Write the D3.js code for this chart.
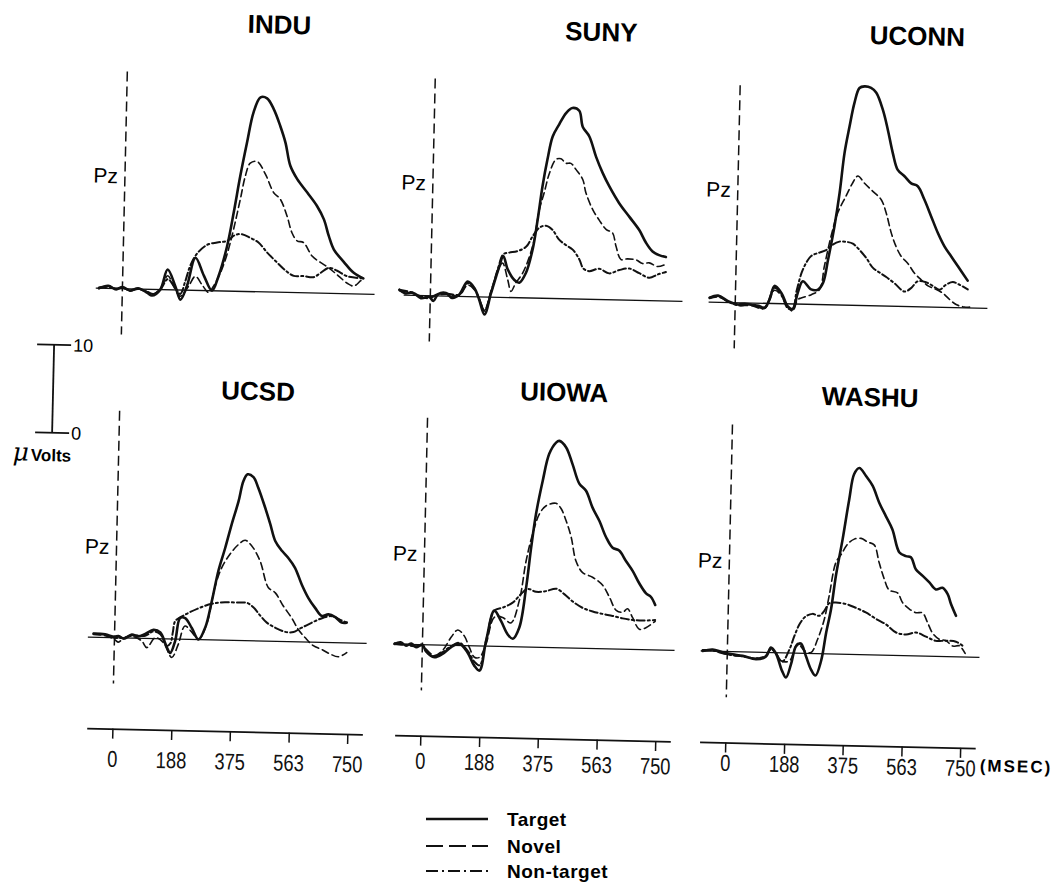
<!DOCTYPE html>
<html><head><meta charset="utf-8">
<script src="https://cdn.jsdelivr.net/npm/d3@7"></script>
<style>body{margin:0;background:#fff}svg{display:block}</style>
</head><body><svg id="chart" width="1058" height="886"></svg>
<script>
// ---------------- data ----------------
const sites = ["INDU", "SUNY", "UCONN", "UCSD", "UIOWA", "WASHU"];
const conditions = ["Target", "Novel", "Non-target"];
const timeTicks = [0, 188, 375, 563, 750];
const scaleBarTicks = [0, 10];
const channelLabel = "Pz";
const timeUnitLabel = "(MSEC)";
const voltUnitLabel = "Volts";

// [time ms, amplitude µV]
const INDU_target = [[-75,0],[-45,0.3],[-20,-0.1],[0,0.2],[25,-0.2],[50,0.1],[80,-0.4],[95,-0.7],[121,0],[143,2.3],[169,0.4],[186,-1.1],[206,0.5],[231,3.7],[259,1.7],[286,0],[306,1.7],[331,5.1],[350,9],[368,13.1],[387,16.9],[406,20.4],[427,22.1],[448,22],[470,20.8],[492,18.9],[510,17],[527,14.4],[550,12.9],[583,11.4],[615,9.9],[638,8.4],[655,6.5],[672,5],[705,3.6],[737,2.4],[768,1.8]];
const INDU_novel = [[-75,0.1],[-45,0.2],[-20,0],[0,0.1],[25,-0.1],[50,0],[80,-0.3],[100,-0.5],[121,0.1],[144,1.6],[165,0.3],[185,-0.7],[210,0.4],[232,1.6],[255,0.6],[275,-0.2],[290,0.5],[312,2.1],[330,4.0],[346,6.3],[370,10.5],[384,13.1],[399,14.6],[421,14.8],[448,13.4],[476,11.3],[497,10.6],[520,8.7],[537,6.8],[554,5.9],[575,5.7],[603,4.2],[630,3.5],[657,2.9],[689,2.0],[717,1.2],[738,0.9],[759,1.5],[768,1.8]];
const INDU_nontarget = [[-75,0],[-45,0.2],[-20,0],[0,0.1],[25,-0.2],[50,0],[80,-0.3],[100,-0.5],[121,0],[144,1.2],[165,0.4],[185,-0.45],[200,1.0],[215,2.8],[236,4.2],[267,5.2],[299,5.5],[331,5.7],[356,6.4],[378,6.5],[405,6.1],[431,5.6],[459,4.5],[491,3.4],[519,2.5],[546,1.9],[577,1.9],[609,1.8],[631,2.3],[657,2.9],[684,2.6],[716,2.0],[768,1.8]];

const SUNY_target = [[-99,0.6],[-80,0.2],[-56,0.3],[-30,-0.3],[-3,-0.15],[10,-0.6],[25,0.2],[50,0.35],[70,-0.2],[92,0.2],[118,1.7],[140,1.0],[156,-0.3],[174,-2.0],[194,0.5],[218,3.5],[230,4.7],[245,3.2],[267,2.0],[283,1.7],[303,2.8],[323,5.5],[337,8.9],[350,12.7],[364,15.8],[379,18.4],[399,19.8],[420,21.1],[440,21.7],[462,21.4],[474,19.6],[496,18.5],[519,16.2],[541,14.4],[563,12.9],[596,11.0],[629,9.5],[662,8.0],[684,6.6],[706,5.6],[727,5.2],[749,5.0]];
const SUNY_novel = [[-99,0.5],[-56,0.2],[-30,-0.2],[-3,-0.3],[25,0.1],[50,0.2],[92,0.1],[118,1.3],[140,0.8],[156,-0.2],[174,-1.5],[194,0.8],[214,3.0],[228,3.9],[246,2.0],[257,0.7],[272,1.7],[293,2.8],[323,5.9],[342,10.1],[356,12],[371,14.2],[391,15.8],[407,15.9],[423,15.4],[439,15.4],[456,14.7],[478,13.6],[489,12.1],[512,10.2],[534,9.0],[556,8.0],[577,7.6],[589,6.1],[606,4.6],[627,4.7],[654,4.6],[675,4.2],[696,4.3],[723,3.9],[750,4.2]];
const SUNY_nontarget = [[-99,0.6],[-56,0.3],[-30,-0.1],[-3,-0.2],[25,0.2],[50,0.3],[92,0.2],[118,1.5],[140,0.9],[156,-0.2],[174,-1.6],[194,0.6],[215,3.4],[230,4.9],[249,5.1],[275,5.3],[302,5.8],[322,7.0],[343,8.0],[364,8.25],[385,7.8],[407,6.7],[429,6.1],[451,5.6],[473,4.5],[486,3.5],[505,3.2],[537,3.5],[569,3.0],[601,3.4],[633,3.6],[665,3.1],[698,2.6],[724,3.0],[750,3.3]];

const UCONN_target = [[-82,0.5],[-55,0.75],[-23,0.15],[9,-0.2],[30,-0.1],[51,-0.2],[75,-0.3],[94,-0.5],[110,0.5],[124,2.0],[147,1.2],[168,-0.3],[184,-0.6],[199,1.3],[214,2.6],[241,1.7],[263,1.7],[279,2.5],[293,5.1],[311,8.9],[325,12.7],[338,17.3],[352,20.3],[366,23],[381,24.7],[397,24.9],[418,24.75],[435,24.2],[457,22.3],[474,20.1],[492,17.4],[509,15.5],[531,14.8],[553,14],[574,13.7],[596,12.2],[619,10.3],[642,8.4],[664,6.9],[686,5.8],[708,4.7],[740,3.1]];
const UCONN_novel = [[-82,0.4],[-55,0.6],[-23,0.1],[9,-0.3],[51,-0.3],[94,-0.6],[124,1.5],[147,0.9],[168,-0.4],[184,-0.8],[199,0.5],[210,0.7],[242,1.1],[268,1.7],[282,4.4],[301,7.8],[321,10.5],[346,12.4],[366,13.9],[382,14.7],[404,13.9],[431,13.0],[458,12.1],[475,10.6],[493,8.3],[509,6.8],[526,5.7],[548,4.9],[570,3.8],[591,3.1],[614,2.4],[635,2.1],[662,1.6],[684,0.9],[705,0.35],[731,0.1],[753,0.1]];
const UCONN_nontarget = [[-82,0.5],[-55,0.7],[-23,0.1],[9,-0.3],[51,-0.2],[94,-0.5],[124,1.8],[147,1.0],[168,-0.5],[184,-0.5],[195,1.5],[210,3.6],[225,4.8],[239,5.5],[265,5.9],[286,6.2],[307,6.85],[328,7.2],[349,7.2],[371,7.0],[393,6.3],[415,5.4],[437,4.3],[458,3.8],[480,3.3],[507,2.6],[539,1.7],[560,2.1],[581,2.9],[608,2.8],[630,2.4],[651,2.0],[672,2.6],[693,2.9],[715,2.6],[741,2.1]];

const UCSD_target = [[-67,0.4],[-30,0.35],[0,0.1],[13,0.2],[30,-0.1],[55,0.4],[75,0.2],[98,0.5],[124,1.0],[146,0.7],[168,-1.0],[179,-1.6],[194,-0.2],[208,2.4],[224,2.4],[246,1.3],[268,0],[289,1.4],[308,4.4],[327,7.9],[347,10.5],[366,13.2],[386,15.8],[400,18.1],[413,18.9],[432,18.6],[448,17.4],[471,15.2],[489,13.3],[506,11.4],[528,10.3],[549,9.5],[571,8.4],[594,6.5],[616,5.0],[638,3.9],[660,3.0],[681,3.2],[703,2.9],[724,2.3],[740,2.3]];
const UCSD_novel = [[-67,0.3],[-30,0.2],[0,-0.2],[13,-0.5],[30,0],[55,0.2],[87,-0.3],[104,-1.05],[130,0.1],[157,-0.45],[184,-2.1],[204,-0.6],[224,1.5],[247,0.8],[268,0],[293,1.75],[317,6.0],[337,8.2],[363,9.8],[389,10.9],[410,11.4],[431,10.8],[459,9.1],[487,6.1],[510,5.5],[537,4.0],[564,2.7],[586,1.4],[608,0.5],[635,-0.4],[662,-0.8],[689,-1.3],[716,-1.6],[742,-1.1]];
const UCSD_nontarget = [[-67,0.4],[-30,0.3],[0,0],[30,0],[55,0.3],[98,0.3],[124,0.8],[146,0.5],[168,-0.8],[179,-0.5],[186,0.8],[193,2.05],[224,2.8],[266,3.55],[308,4.1],[350,4.3],[393,4.3],[420,4.3],[441,3.8],[463,2.9],[485,2.1],[512,1.55],[544,1.1],[571,1.1],[591,1.5],[612,1.9],[639,2.4],[665,2.8],[692,3.0],[719,2.6],[741,2.3]];

const UIOWA_target = [[-89,0],[-70,0.2],[-52,-0.15],[-35,0.1],[-20,-0.3],[0,0],[12,-0.75],[39,-1.4],[65,-1.0],[92,-0.2],[118,0.2],[145,-0.8],[167,-2.25],[184,-2.8],[203,0.6],[227,4.05],[249,2.9],[271,1.4],[288,0.9],[308,2.2],[327,6.8],[340,11.3],[353,15.1],[372,18.9],[391,22],[412,23.3],[422,23.5],[444,22.8],[466,20.9],[489,18.7],[511,17.9],[533,16],[556,14.5],[578,12.7],[600,11.5],[621,11.2],[644,10],[666,8.9],[688,7.5],[710,6.4],[726,6.0],[740,5.1]];
const UIOWA_novel = [[-89,0.1],[-52,0],[-20,-0.2],[0,-0.1],[12,-0.5],[39,-1.2],[65,-0.6],[91,0.9],[112,1.76],[133,1.1],[150,-0.2],[167,-1.3],[183,-1.3],[203,0.25],[228,3.3],[254,3.3],[281,2.7],[306,5.25],[325,9.8],[344,12.9],[364,15.15],[385,16.1],[416,16.4],[433,15.8],[449,14.5],[467,12.6],[484,9.9],[506,8.6],[538,8.1],[571,7.2],[593,5.9],[616,4.4],[637,4.2],[652,4.6],[669,3.6],[691,2.3],[712,2.5],[741,3.25]];
const UIOWA_nontarget = [[-89,0],[-52,-0.1],[-20,-0.2],[0,-0.1],[12,-0.6],[39,-1.3],[65,-0.8],[92,-0.1],[118,0.3],[145,-0.6],[167,-1.8],[184,-2.2],[203,0.6],[227,4.05],[253,4.4],[285,5.0],[311,6.0],[332,6.6],[359,6.3],[391,6.4],[423,6.7],[449,6.1],[476,5.3],[508,4.6],[541,4.2],[573,3.95],[605,3.75],[637,3.5],[669,3.35],[701,3.3],[741,3.4]];

const WASHU_target = [[-79,0],[-47,0.2],[-15,-0.1],[17,-0.3],[49,-0.45],[92,-0.8],[123,-0.5],[139,0.56],[155,-0.07],[176,-2.05],[189,-2.8],[204,-1.3],[219,0.8],[234,1.1],[251,-0.3],[268,-1.8],[283,-2.5],[300,-0.8],[314,2.4],[328,5.1],[341,8.9],[360,13.1],[378,17.6],[392,20.5],[408,21.2],[430,20.3],[452,19.2],[474,17.3],[496,15.8],[518,14.3],[542,11.7],[563,11.3],[579,11.2],[596,9.8],[618,9.1],[639,8.4],[661,7.6],[682,7.8],[699,7.1],[710,6.0],[727,4.65]];
const WASHU_novel = [[-79,0],[-47,0.1],[-15,-0.2],[17,-0.4],[49,-0.5],[92,-0.7],[123,-0.4],[139,0.37],[155,0],[172,-0.9],[199,-0.9],[224,1.1],[246,0.3],[267,0.1],[287,1.6],[307,3.9],[321,6.6],[340,10.4],[356,11.3],[376,12.5],[397,13.1],[419,13.2],[440,12.8],[461,12.5],[478,10.5],[496,8.6],[512,7.4],[539,7.1],[556,6.0],[578,5.3],[599,4.9],[620,4.9],[637,3.8],[654,2.6],[675,1.95],[697,1.8],[719,1.2],[740,1.25],[759,0.4]];
const WASHU_nontarget = [[-79,0.1],[-47,0.1],[-15,-0.2],[17,-0.4],[49,-0.5],[92,-0.7],[123,-0.4],[139,0.4],[155,-0.1],[176,-1.0],[198,0.4],[213,1.95],[230,3.4],[248,4.2],[269,4.5],[291,4.3],[306,4.85],[322,5.75],[343,5.85],[376,5.7],[407,5.3],[439,4.8],[472,4.1],[504,3.5],[537,2.6],[569,2.4],[601,2.65],[633,2.2],[665,1.75],[697,1.8],[729,1.7],[751,1.25]];

const seriesBySite = {
  INDU: [INDU_target, INDU_novel, INDU_nontarget],
  SUNY: [SUNY_target, SUNY_novel, SUNY_nontarget],
  UCONN: [UCONN_target, UCONN_novel, UCONN_nontarget],
  UCSD: [UCSD_target, UCSD_novel, UCSD_nontarget],
  UIOWA: [UIOWA_target, UIOWA_novel, UIOWA_nontarget],
  WASHU: [WASHU_target, WASHU_novel, WASHU_nontarget]
};

// ---------------- layout (positions / styles) ----------------
const W = 1058, H = 886;
const colX0 = [119, 427, 732];        // x of time 0 per column
const rowBase = [298, 647];            // y of 0 µV per row
const pxPerMs = 0.3133;
const pxPerUV = 8.8;
const panelLayout = {
  INDU:  {col:0,row:0, titleDx:151, titleY:30},
  SUNY:  {col:1,row:0, titleDx:165, titleY:30},
  UCONN: {col:2,row:0, titleDx:176, titleY:27},
  UCSD:  {col:0,row:1, titleDx:138, titleY:397},
  UIOWA: {col:1,row:1, titleDx:136, titleY:391},
  WASHU: {col:2,row:1, titleDx:137, titleY:389}
};
const rowPzOffset = [-113, -91];
const rowOnsetTop = [24.7, 25.8];      // µV at top of onset line
const onsetBottom = -5.2;
const baselineRange = [-85, 805];
const axisRange = [-82, 798];
const axisY = 738;
const axisLabelDy = [30, 25, 20];
const styles = [
  {width:2.6, dash:null},
  {width:1.6, dash:"7,4"},
  {width:2.0, dash:"8,3,2,3"}
];

const svg = d3.select("#chart");
svg.append("rect").attr("width", W).attr("height", H).attr("fill", "#fff");
const root = svg.append("g").attr("transform", "rotate(1.3,529,443)");
const FONT = "'Liberation Sans', Arial, Helvetica, sans-serif";

sites.forEach(site => {
  const L = panelLayout[site];
  const x0 = colX0[L.col], base = rowBase[L.row];
  const x = d3.scaleLinear().domain([0, 750]).range([x0, x0 + 750 * pxPerMs]);
  const y = d3.scaleLinear().domain([0, 10]).range([base, base - 10 * pxPerUV]);
  const g = root.append("g");

  // title
  g.append("text").attr("x", x0 + L.titleDx).attr("y", L.titleY).attr("dy", "0.36em")
    .attr("text-anchor", "middle").attr("font-family", FONT).attr("font-weight", "bold")
    .attr("font-size", 26).text(site);

  // onset line
  g.append("line").attr("x1", x(0)).attr("x2", x(0))
    .attr("y1", y(rowOnsetTop[L.row])).attr("y2", y(onsetBottom))
    .attr("stroke", "#111").attr("stroke-width", 1.5).attr("stroke-dasharray", "10,5");

  // Pz
  g.append("text").attr("x", x(0) - 7).attr("y", base + rowPzOffset[L.row]).attr("dy", "0.36em")
    .attr("text-anchor", "end").attr("font-family", FONT).attr("font-size", 21).text(channelLabel);

  // baseline
  g.append("line").attr("x1", x(baselineRange[0])).attr("x2", x(baselineRange[1]))
    .attr("y1", y(0)).attr("y2", y(0)).attr("stroke", "#111").attr("stroke-width", 1.3);

  const line = d3.line().x(d => x(d[0])).y(d => y(d[1])).curve(d3.curveCatmullRom.alpha(0.5));
  seriesBySite[site].slice().reverse().forEach((s, ri) => {
    const i = 2 - ri;
    const p = g.append("path").datum(s).attr("d", line).attr("fill", "none")
      .attr("stroke", "#111").attr("stroke-width", styles[i].width)
      .attr("stroke-linejoin", "round").attr("stroke-linecap", "round");
    if (styles[i].dash) p.attr("stroke-dasharray", styles[i].dash);
  });
});

// bottom time axes
colX0.forEach((x0, c) => {
  const xs = d3.scaleLinear().domain(axisRange)
    .range([x0 + axisRange[0] * pxPerMs, x0 + axisRange[1] * pxPerMs]);
  const ax = root.append("g").attr("transform", `translate(0,${axisY})`)
    .call(d3.axisBottom(xs).tickValues(timeTicks).tickSize(10).tickSizeOuter(0).tickFormat(d3.format("d")));
  ax.select(".domain").attr("stroke", "#111").attr("stroke-width", 1.8);
  ax.selectAll(".tick line").attr("stroke", "#111").attr("stroke-width", 1.5);
  ax.selectAll(".tick text").attr("fill", "#111").attr("font-family", FONT).attr("font-size", 23)
    .attr("y", axisLabelDy[c]).attr("dy", "0.36em").attr("transform", "scale(0.8,1)");
});
root.append("text").attr("x", 987).attr("y", axisY + 17).attr("dy", "0.36em")
  .attr("font-family", FONT).attr("font-size", 17).attr("font-weight", "bold")
  .attr("letter-spacing", 2).text(timeUnitLabel);

// scale bar
const sb = d3.scaleLinear().domain([0, 10]).range([443.5, 355.5]);
root.append("line").attr("x1", 52).attr("x2", 52).attr("y1", sb(0)).attr("y2", sb(10))
  .attr("stroke", "#111").attr("stroke-width", 1.8);
scaleBarTicks.forEach(v => {
  root.append("line").attr("x1", 35).attr("x2", 69).attr("y1", sb(v)).attr("y2", sb(v))
    .attr("stroke", "#111").attr("stroke-width", 1.8);
  root.append("text").attr("x", 71).attr("y", sb(v)).attr("dy", "0.36em")
    .attr("font-family", FONT).attr("font-size", 18).text(v);
});
const ut = root.append("text").attr("x", 13).attr("y", 472).attr("font-family", FONT);
ut.append("tspan").attr("font-size", 25).attr("font-style", "italic").attr("font-family", "'DejaVu Serif', serif").text("\u03bc");
ut.append("tspan").attr("font-size", 17).attr("font-weight", "bold").attr("dx", 2).text(voltUnitLabel);

// legend (unrotated)
const legY = [819, 846, 871];
conditions.forEach((c, i) => {
  const l = svg.append("line").attr("x1", 426).attr("x2", 488).attr("y1", legY[i]).attr("y2", legY[i])
    .attr("stroke", "#111").attr("stroke-width", i === 0 ? 2.6 : 2);
  if (i === 1) l.attr("stroke-dasharray", "17,6");
  if (i === 2) l.attr("stroke-dasharray", "12,4,2,4");
  svg.append("text").attr("x", 507).attr("y", legY[i]).attr("dy", "0.36em")
    .attr("font-family", FONT).attr("font-weight", "bold").attr("font-size", 19)
    .attr("letter-spacing", 0.5).text(c);
});
</script></body></html>
